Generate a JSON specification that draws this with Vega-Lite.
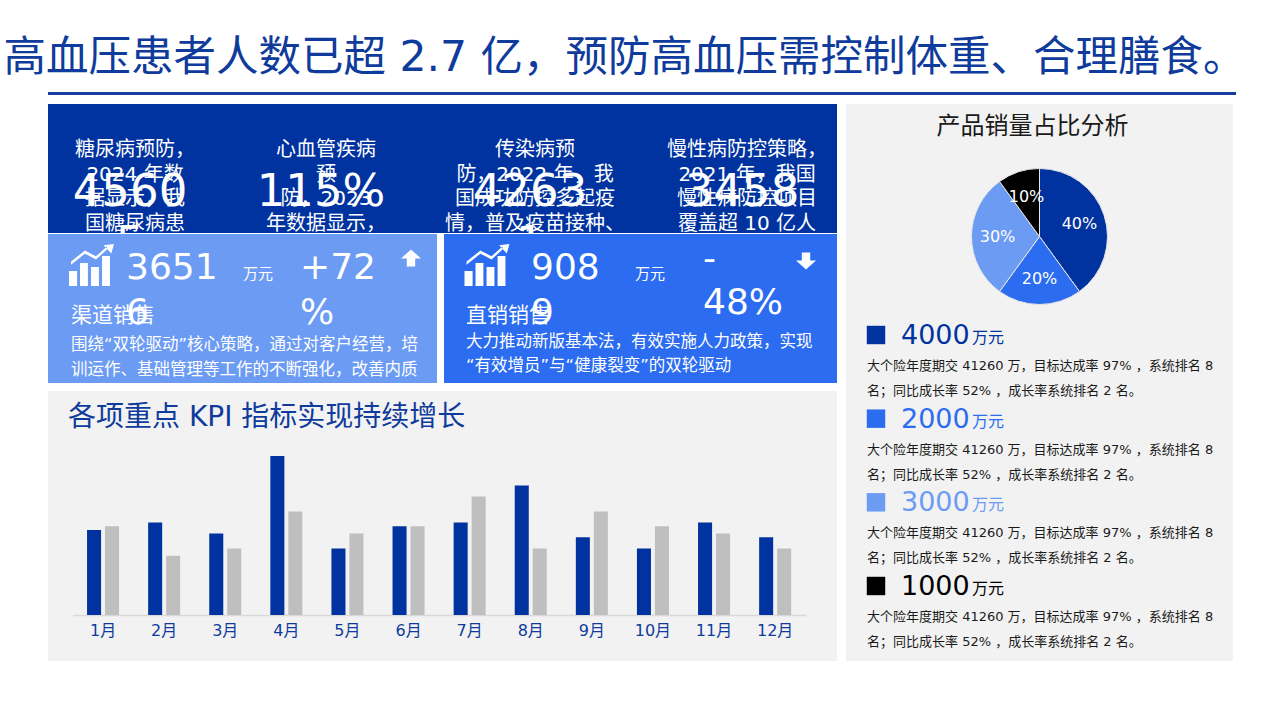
{
  "$schema": "https://vega.github.io/schema/vega-lite/v6.json",
  "background": "#ffffff",
  "padding": {"left": 3, "top": 37, "right": 0, "bottom": 0},
  "config": {"view": {"stroke": null}, "font": "DejaVu Sans, Noto Sans CJK SC"},
  "title": {"text": "高血压患者人数已超 2.7 亿，预防高血压需控制体重、合理膳食。", "anchor": "start", "dx": -44, "offset": 12, "fontSize": 42.5, "fontWeight": "normal", "color": "#0f3b9c", "font": "DejaVu Sans, Noto Sans CJK SC"},
  "spacing": 9,
  "resolve": {"scale": {"color": "independent"}},
  "vconcat": [
    {"width": 1188, "height": 3, "view": {"fill": "#163e9e", "stroke": null}, "data": {"values": [{}]}, "mark": {"type": "rule", "opacity": 0}, "encoding": {}},
    {"spacing": 9, "resolve": {"scale": {"color": "independent"}}, "hconcat": [
      {"spacing": 8, "resolve": {"scale": {"color": "independent"}}, "vconcat": [
        {"spacing": 1, "vconcat": [
          {
            "width": 789, "height": 129,
            "view": {"fill": "#0033a0", "stroke": null},
            "data": {"values": [
              {"k": "div", "col": 1.5}, {"k": "div", "col": 2.5}, {"k": "div", "col": 3.5},
              {"k": "lab", "col": 1, "row": 1, "t": "糖尿病预防，"},
              {"k": "lab", "col": 1, "row": 2, "t": "2024 年数"},
              {"k": "lab", "col": 1, "row": 3, "t": "据显示，我"},
              {"k": "lab", "col": 1, "row": 4, "t": "国糖尿病患"},
              {"k": "lab", "col": 2, "row": 1, "t": "心血管疾病"},
              {"k": "lab", "col": 2, "row": 2, "t": "预"},
              {"k": "lab", "col": 2, "row": 3, "t": "防，2023"},
              {"k": "lab", "col": 2, "row": 4, "t": "年数据显示，"},
              {"k": "lab", "col": 3, "row": 1, "t": "传染病预"},
              {"k": "lab", "col": 3, "row": 2, "t": "防，2022 年，我"},
              {"k": "lab", "col": 3, "row": 3, "t": "国成功防控多起疫"},
              {"k": "lab", "col": 3, "row": 4, "t": "情，普及疫苗接种、"},
              {"k": "lab", "col": 4, "row": 1, "t": "慢性病防控策略，"},
              {"k": "lab", "col": 4, "row": 2, "t": "2021 年，我国"},
              {"k": "lab", "col": 4, "row": 3, "t": "慢性病防控项目"},
              {"k": "lab", "col": 4, "row": 4, "t": "覆盖超 10 亿人"},
              {"k": "num", "col": 1, "row": 3, "t": "4560\n5"},
              {"k": "num", "col": 2, "row": 3, "t": "115%"},
              {"k": "num", "col": 3, "row": 3, "t": "4263\n1"},
              {"k": "num", "col": 4, "row": 3, "t": "3458"}
            ]},
            "encoding": {
              "x": {"field": "col", "type": "quantitative", "scale": {"domain": [1, 1.5, 2, 2.5, 3, 3.5, 4], "range": [87, 172, 278, 383, 487, 595, 699], "zero": false, "nice": false}, "axis": null},
              "y": {"field": "row", "type": "quantitative", "scale": {"domain": [1, 4], "range": [52, 125.5], "zero": false, "nice": false}, "axis": null}
            },
            "layer": [
              {"transform": [{"filter": "datum.k === 'div'"}], "mark": {"type": "rule", "color": "#ffffff", "opacity": 0.45, "strokeWidth": 1},
               "encoding": {"y": {"datum": 0.2, "type": "quantitative", "scale": {"domain": [1, 4], "range": [52, 125.5], "zero": false, "nice": false}, "axis": null}, "y2": {"datum": 3.5}}},
              {"transform": [{"filter": "datum.k === 'lab'"}], "mark": {"type": "text", "color": "#ffffff", "fontSize": 20, "align": "center", "baseline": "alphabetic", "clip": true}, "encoding": {"text": {"field": "t"}}},
              {"transform": [{"filter": "datum.k === 'num'"}], "mark": {"type": "text", "color": "#ffffff", "fontSize": 45, "align": "center", "baseline": "alphabetic", "dx": -5, "dy": 1, "lineBreak": "\n", "lineHeight": 52, "clip": true}, "encoding": {"text": {"field": "t"}}}
            ]
          },
          {"spacing": 7, "hconcat": [
            {
              "width": 389, "height": 149,
              "view": {"fill": "#6c9bf4", "stroke": null},
              "data": {"values": [
                {"k": "icon", "col": 2, "row": 1},
                {"k": "arrow", "col": 6, "row": 0},
                {"k": "num", "col": 3, "row": 2, "t": "3651\n6"},
                {"k": "unit", "col": 4, "row": 2, "t": "万元"},
                {"k": "chg", "col": 5, "row": 2, "t": "+72\n%"},
                {"k": "name", "col": 1, "row": 3, "t": "渠道销售"},
                {"k": "para", "col": 1, "row": 4, "t": "围绕“双轮驱动”核心策略，通过对客户经营，培"},
                {"k": "para", "col": 1, "row": 5, "t": "训运作、基础管理等工作的不断强化，改善内质"}
              ]},
              "encoding": {
                "x": {"field": "col", "type": "quantitative", "scale": {"domain": [1, 2, 3, 4, 5, 6], "range": [23, 43.5, 78, 195, 252, 363], "zero": false, "nice": false}, "axis": null},
                "y": {"field": "row", "type": "quantitative", "scale": {"domain": [0, 1, 2, 3, 4, 5], "range": [24, 32, 45, 88, 116, 141], "zero": false, "nice": false}, "axis": null}
              },
              "layer": [
                {"transform": [{"filter": "datum.k === 'icon'"}], "mark": {"type": "point", "shape": "M-1,0.89L-1,0.22L-0.64,0.22L-0.64,0.89Z M-0.51,0.89L-0.51,-0.13L-0.16,-0.13L-0.16,0.89Z M-0.02,0.89L-0.02,0.04L0.33,0.04L0.33,0.89Z M0.47,0.89L0.47,-0.44L0.82,-0.44L0.82,0.89Z M-0.91,-0.2L-0.29,-0.69L0.2,-0.43L0.69,-0.87L0.69,-0.73L0.2,-0.29L-0.29,-0.55L-0.91,-0.06Z M1,-0.98L0.54,-0.92L0.88,-0.56Z", "size": 2025, "filled": true, "color": "#ffffff", "opacity": 1, "strokeWidth": 0}},
                {"transform": [{"filter": "datum.k === 'arrow'"}], "mark": {"type": "point", "shape": "M0,-0.85L1,0.05L0.42,0.05L0.42,0.85L-0.42,0.85L-0.42,0.05L-1,0.05Z", "size": 400, "filled": true, "color": "#ffffff", "opacity": 1, "strokeWidth": 0}},
                {"transform": [{"filter": "datum.k === 'num' || datum.k === 'chg'"}], "mark": {"type": "text", "color": "#ffffff", "fontSize": 36, "align": "left", "baseline": "alphabetic", "lineBreak": "\n", "lineHeight": 45}, "encoding": {"text": {"field": "t"}}},
                {"transform": [{"filter": "datum.k === 'unit'"}], "mark": {"type": "text", "color": "#ffffff", "fontSize": 15, "align": "left", "baseline": "alphabetic"}, "encoding": {"text": {"field": "t"}}},
                {"transform": [{"filter": "datum.k === 'name'"}], "mark": {"type": "text", "color": "#ffffff", "fontSize": 21, "align": "left", "baseline": "alphabetic"}, "encoding": {"text": {"field": "t"}}},
                {"transform": [{"filter": "datum.k === 'para'"}], "mark": {"type": "text", "color": "#ffffff", "fontSize": 16.5, "align": "left", "baseline": "alphabetic"}, "encoding": {"text": {"field": "t"}}}
              ]
            },
            {
              "width": 393, "height": 149,
              "view": {"fill": "#2b6cf0", "stroke": null},
              "data": {"values": [
                {"k": "icon", "col": 2, "row": 1},
                {"k": "arrow", "col": 6, "row": 0},
                {"k": "num", "col": 3, "row": 2, "t": "908\n9"},
                {"k": "unit", "col": 4, "row": 2, "t": "万元"},
                {"k": "chg", "col": 5, "row": 2, "t": "-\n48%"},
                {"k": "name", "col": 1, "row": 3, "t": "直销销售"},
                {"k": "para", "col": 1, "row": 4, "t": "大力推动新版基本法，有效实施人力政策，实现"},
                {"k": "para", "col": 1, "row": 5, "t": "“有效增员”与“健康裂变”的双轮驱动"}
              ]},
              "encoding": {
                "x": {"field": "col", "type": "quantitative", "scale": {"domain": [1, 2, 3, 4, 5, 6], "range": [22, 43, 87, 191, 259, 362], "zero": false, "nice": false}, "axis": null},
                "y": {"field": "row", "type": "quantitative", "scale": {"domain": [0, 1, 2, 3, 4, 5], "range": [27, 32, 45, 88, 113, 137], "zero": false, "nice": false}, "axis": null}
              },
              "layer": [
                {"transform": [{"filter": "datum.k === 'icon'"}], "mark": {"type": "point", "shape": "M-1,0.89L-1,0.22L-0.64,0.22L-0.64,0.89Z M-0.51,0.89L-0.51,-0.13L-0.16,-0.13L-0.16,0.89Z M-0.02,0.89L-0.02,0.04L0.33,0.04L0.33,0.89Z M0.47,0.89L0.47,-0.44L0.82,-0.44L0.82,0.89Z M-0.91,-0.2L-0.29,-0.69L0.2,-0.43L0.69,-0.87L0.69,-0.73L0.2,-0.29L-0.29,-0.55L-0.91,-0.06Z M1,-0.98L0.54,-0.92L0.88,-0.56Z", "size": 2025, "filled": true, "color": "#ffffff", "opacity": 1, "strokeWidth": 0}},
                {"transform": [{"filter": "datum.k === 'arrow'"}], "mark": {"type": "point", "shape": "M0,0.85L1,-0.05L0.42,-0.05L0.42,-0.85L-0.42,-0.85L-0.42,-0.05L-1,-0.05Z", "size": 400, "filled": true, "color": "#ffffff", "opacity": 1, "strokeWidth": 0}},
                {"transform": [{"filter": "datum.k === 'num'"}], "mark": {"type": "text", "color": "#ffffff", "fontSize": 36, "align": "left", "baseline": "alphabetic", "lineBreak": "\n", "lineHeight": 45}, "encoding": {"text": {"field": "t"}}},
                {"transform": [{"filter": "datum.k === 'chg'"}], "mark": {"type": "text", "color": "#ffffff", "fontSize": 36, "align": "left", "baseline": "alphabetic", "dy": -9, "lineBreak": "\n", "lineHeight": 44}, "encoding": {"text": {"field": "t"}}},
                {"transform": [{"filter": "datum.k === 'unit'"}], "mark": {"type": "text", "color": "#ffffff", "fontSize": 15, "align": "left", "baseline": "alphabetic"}, "encoding": {"text": {"field": "t"}}},
                {"transform": [{"filter": "datum.k === 'name'"}], "mark": {"type": "text", "color": "#ffffff", "fontSize": 21, "align": "left", "baseline": "alphabetic"}, "encoding": {"text": {"field": "t"}}},
                {"transform": [{"filter": "datum.k === 'para'"}], "mark": {"type": "text", "color": "#ffffff", "fontSize": 16.5, "align": "left", "baseline": "alphabetic"}, "encoding": {"text": {"field": "t"}}}
              ]
            }
          ]}
        ]},
        {
          "width": 789, "height": 270,
          "view": {"fill": "#f2f2f2", "stroke": null},
          "title": {"text": "各项重点 KPI 指标实现持续增长", "anchor": "start", "dx": 20, "offset": -41, "fontSize": 28, "fontWeight": "normal", "color": "#0f3b9c", "font": "DejaVu Sans, Noto Sans CJK SC"},
          "data": {"values": [
            {"m": "1月", "s": "A", "v": 23}, {"m": "1月", "s": "B", "v": 24},
            {"m": "2月", "s": "A", "v": 25}, {"m": "2月", "s": "B", "v": 16},
            {"m": "3月", "s": "A", "v": 22}, {"m": "3月", "s": "B", "v": 18},
            {"m": "4月", "s": "A", "v": 43}, {"m": "4月", "s": "B", "v": 28},
            {"m": "5月", "s": "A", "v": 18}, {"m": "5月", "s": "B", "v": 22},
            {"m": "6月", "s": "A", "v": 24}, {"m": "6月", "s": "B", "v": 24},
            {"m": "7月", "s": "A", "v": 25}, {"m": "7月", "s": "B", "v": 32},
            {"m": "8月", "s": "A", "v": 35}, {"m": "8月", "s": "B", "v": 18},
            {"m": "9月", "s": "A", "v": 21}, {"m": "9月", "s": "B", "v": 28},
            {"m": "10月", "s": "A", "v": 18}, {"m": "10月", "s": "B", "v": 24},
            {"m": "11月", "s": "A", "v": 25}, {"m": "11月", "s": "B", "v": 22},
            {"m": "12月", "s": "A", "v": 21}, {"m": "12月", "s": "B", "v": 18}
          ]},
          "mark": {"type": "bar"},
          "encoding": {
            "x": {"field": "m", "type": "nominal", "sort": null, "scale": {"range": [24.5, 757.7], "paddingInner": 0.476, "paddingOuter": 0.238},
                  "axis": {"title": null, "orient": "bottom", "offset": -46, "domainColor": "#d9d9d9", "domainWidth": 1.5, "ticks": false, "labelPadding": 7, "labelFontSize": 16, "labelColor": "#0f3b9c", "labelFont": "DejaVu Sans, Noto Sans CJK SC", "labelAngle": 0, "grid": false}},
            "xOffset": {"field": "s", "type": "nominal", "scale": {"paddingInner": 0.22, "paddingOuter": 0}},
            "y": {"field": "v", "type": "quantitative", "scale": {"domain": [0, 60], "range": [224, 2], "nice": false, "zero": true}, "axis": null},
            "color": {"field": "s", "type": "nominal", "scale": {"domain": ["A", "B"], "range": ["#0033a0", "#bfbfbf"]}, "legend": null}
          }
        }
      ]},
      {"spacing": 0, "resolve": {"scale": {"color": "independent"}}, "vconcat": [
        {
          "width": 387, "height": 50,
          "view": {"fill": "#f2f2f2", "stroke": null},
          "data": {"values": [{"t": "产品销量占比分析"}]},
          "mark": {"type": "text", "fontSize": 24, "color": "#1a1a1a", "dx": -7, "dy": -2, "baseline": "middle", "align": "center"},
          "encoding": {"text": {"field": "t"}}
        },
        {
          "width": 387, "height": 165,
          "view": {"fill": "#f2f2f2", "stroke": null},
          "data": {"values": [
            {"s": "a", "p": 0.4, "o": 1},
            {"s": "b", "p": 0.2, "o": 2},
            {"s": "c", "p": 0.3, "o": 3},
            {"s": "d", "p": 0.1, "o": 4}
          ]},
          "encoding": {
            "theta": {"field": "p", "type": "quantitative", "stack": true},
            "order": {"field": "o", "type": "quantitative"}
          },
          "layer": [
            {"mark": {"type": "arc", "outerRadius": 68, "stroke": "#e6e6e6", "strokeWidth": 1},
             "encoding": {"color": {"field": "s", "type": "nominal", "scale": {"domain": ["a", "b", "c", "d"], "range": ["#0033a0", "#2b6cf0", "#6c9bf4", "#000000"]}, "legend": null}}},
            {"mark": {"type": "text", "radius": 42, "fontSize": 16, "color": "#ffffff"},
             "encoding": {"text": {"field": "p", "type": "quantitative", "format": ".0%"}}}
          ]
        },
        {
          "width": 387, "height": 342,
          "view": {"fill": "#f2f2f2", "stroke": null},
          "data": {"values": [
            {"i": 1, "v": "4000", "s": "a", "d": "大个险年度期交 41260 万，目标达成率 97% ，系统排名 8\n名；同比成长率 52% ，成长率系统排名 2 名。"},
            {"i": 2, "v": "2000", "s": "b", "d": "大个险年度期交 41260 万，目标达成率 97% ，系统排名 8\n名；同比成长率 52% ，成长率系统排名 2 名。"},
            {"i": 3, "v": "3000", "s": "c", "d": "大个险年度期交 41260 万，目标达成率 97% ，系统排名 8\n名；同比成长率 52% ，成长率系统排名 2 名。"},
            {"i": 4, "v": "1000", "s": "d", "d": "大个险年度期交 41260 万，目标达成率 97% ，系统排名 8\n名；同比成长率 52% ，成长率系统排名 2 名。"}
          ]},
          "encoding": {
            "y": {"field": "i", "type": "quantitative", "scale": {"domain": [1, 4], "range": [16, 267], "zero": false, "nice": false}, "axis": null}
          },
          "layer": [
            {"mark": {"type": "point", "shape": "square", "size": 340, "filled": true, "opacity": 1, "strokeWidth": 0},
             "encoding": {"x": {"datum": 2, "type": "quantitative", "scale": {"domain": [1, 2, 3, 4], "range": [21, 30, 55, 126], "zero": false, "nice": false}, "axis": null},
                          "color": {"field": "s", "type": "nominal", "scale": {"domain": ["a", "b", "c", "d"], "range": ["#0033a0", "#2b6cf0", "#6c9bf4", "#000000"]}, "legend": null}}},
            {"mark": {"type": "text", "fontSize": 27, "align": "left", "baseline": "middle", "dy": 1},
             "encoding": {"x": {"datum": 3, "type": "quantitative", "scale": {"domain": [1, 2, 3, 4], "range": [21, 30, 55, 126], "zero": false, "nice": false}, "axis": null},
                          "text": {"field": "v"},
                          "color": {"field": "s", "type": "nominal", "scale": {"domain": ["a", "b", "c", "d"], "range": ["#0033a0", "#2b6cf0", "#6c9bf4", "#000000"]}, "legend": null}}},
            {"mark": {"type": "text", "fontSize": 16, "align": "left", "baseline": "middle", "dy": 3},
             "encoding": {"x": {"datum": 4, "type": "quantitative", "scale": {"domain": [1, 2, 3, 4], "range": [21, 30, 55, 126], "zero": false, "nice": false}, "axis": null},
                          "text": {"value": "万元"},
                          "color": {"field": "s", "type": "nominal", "scale": {"domain": ["a", "b", "c", "d"], "range": ["#0033a0", "#2b6cf0", "#6c9bf4", "#000000"]}, "legend": null}}},
            {"mark": {"type": "text", "fontSize": 13, "align": "left", "baseline": "middle", "dy": 31, "lineBreak": "\n", "lineHeight": 25, "color": "#1a1a1a"},
             "encoding": {"x": {"datum": 1, "type": "quantitative", "scale": {"domain": [1, 2, 3, 4], "range": [21, 30, 55, 126], "zero": false, "nice": false}, "axis": null},
                          "text": {"field": "d"}}}
          ]
        }
      ]}
    ]}
  ]
}
